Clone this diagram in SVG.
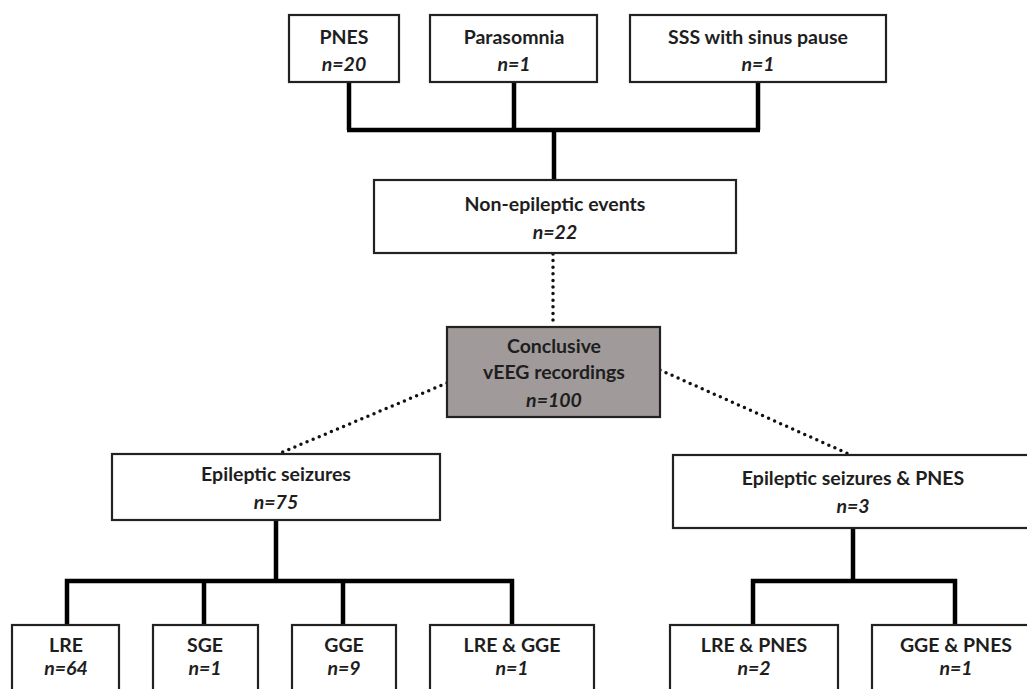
<svg xmlns="http://www.w3.org/2000/svg" width="1027" height="689" viewBox="0 0 1027 689">
<style>
.box{fill:#fff;stroke:#222;stroke-width:2.2}
.grey{fill:#a09a9a;stroke:#222;stroke-width:2.2}
.t{font-family:Lato,"Open Sans","Liberation Sans",sans-serif;font-weight:bold;font-size:19.5px;fill:#1e1e1e;text-anchor:middle}
.n{font-style:italic}
.solid{fill:none;stroke:#000;stroke-width:4.5;stroke-linejoin:miter}
.dot{fill:none;stroke:#111;stroke-width:3.5;stroke-linecap:round;stroke-dasharray:0 6.6}
</style>
<rect width="1027" height="689" fill="#fff"/>
<g id="connectors">
<path class="solid" d="M349 83V130M514 83V130M758 83V130M347 130H760M554 130V180"/>
<path class="dot" d="M553 254V326"/>
<path class="dot" d="M447 383L278 454"/>
<path class="dot" d="M660 370L851 455"/>
<path class="solid" d="M276 520V581M67 625V581H512V625M204 581V625M343 581V625"/>
<path class="solid" d="M853 528V581M753 625V581H955V625"/>
</g>
<g id="pnes"><rect class="box" x="289" y="15" width="110" height="67"/><text class="t" x="344" y="44">PNES</text><text class="t n" x="344" y="71">n=20</text></g>
<g id="parasomnia"><rect class="box" x="430" y="15" width="167" height="67"/><text class="t" x="514" y="44">Parasomnia</text><text class="t n" x="514" y="71">n=1</text></g>
<g id="sss"><rect class="box" x="630" y="15" width="256" height="67"/><text class="t" x="758" y="44">SSS with sinus pause</text><text class="t n" x="758" y="71">n=1</text></g>
<g id="nonepileptic"><rect class="box" x="374" y="180" width="362" height="73"/><text class="t" x="555" y="211">Non-epileptic events</text><text class="t n" x="555" y="239">n=22</text></g>
<g id="conclusive"><rect class="grey" x="447" y="327" width="213" height="90"/><text class="t" x="554" y="353">Conclusive</text><text class="t" x="554" y="379">vEEG recordings</text><text class="t n" x="554" y="407">n=100</text></g>
<g id="epileptic"><rect class="box" x="112" y="454" width="328" height="66"/><text class="t" x="276" y="481">Epileptic seizures</text><text class="t n" x="276" y="509">n=75</text></g>
<g id="epileptic-pnes"><rect class="box" x="673" y="455" width="370" height="73"/><text class="t" x="853" y="485">Epileptic seizures &amp; PNES</text><text class="t n" x="853" y="513">n=3</text></g>
<g id="lre"><rect class="box" x="12" y="625" width="107" height="80"/><text class="t" x="66" y="652">LRE</text><text class="t n" x="66" y="675">n=64</text></g>
<g id="sge"><rect class="box" x="153" y="625" width="105" height="80"/><text class="t" x="205" y="652">SGE</text><text class="t n" x="205" y="675">n=1</text></g>
<g id="gge"><rect class="box" x="292" y="625" width="104" height="80"/><text class="t" x="344" y="652">GGE</text><text class="t n" x="344" y="675">n=9</text></g>
<g id="lre-gge"><rect class="box" x="430" y="625" width="164" height="80"/><text class="t" x="512" y="652">LRE &amp; GGE</text><text class="t n" x="512" y="675">n=1</text></g>
<g id="lre-pnes"><rect class="box" x="670" y="625" width="168" height="80"/><text class="t" x="754" y="652">LRE &amp; PNES</text><text class="t n" x="754" y="675">n=2</text></g>
<g id="gge-pnes"><rect class="box" x="872" y="625" width="168" height="80"/><text class="t" x="956" y="652">GGE &amp; PNES</text><text class="t n" x="956" y="675">n=1</text></g>
</svg>
